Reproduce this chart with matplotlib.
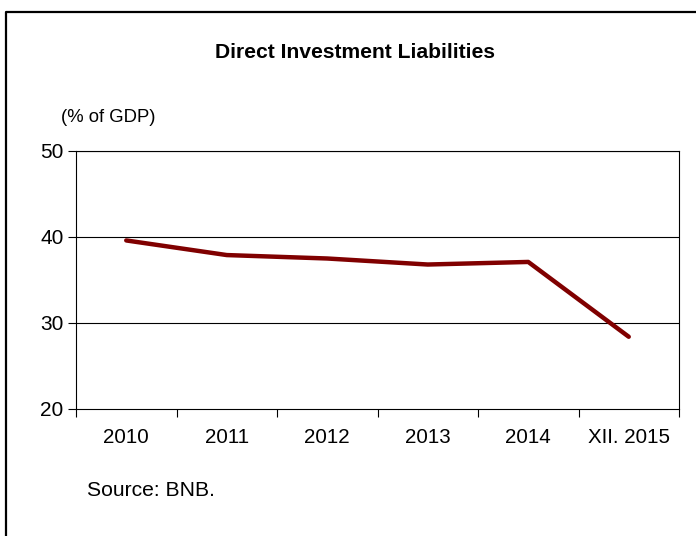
import matplotlib
matplotlib.use("Agg")
import matplotlib.pyplot as plt
from matplotlib.lines import Line2D
import numpy as np

plt.rcParams['font.family'] = ['Liberation Sans', 'DejaVu Sans']

categories = ["2010", "2011", "2012", "2013", "2014", "XII. 2015"]
values = [39.6, 37.9, 37.5, 36.8, 37.1, 28.4]
yticks = [20, 30, 40, 50]

fig = plt.figure(figsize=(6.96, 5.36), dpi=100)
W, H = 696, 536
ax = fig.add_axes([76 / W, 1 - 409 / H, (679 - 76) / W, (409 - 151) / H])

x = np.arange(len(categories))
ax.plot(x, values, color='#800000', linewidth=3.2, solid_capstyle='round', zorder=3)

ax.set_xlim(-0.5, len(categories) - 0.5)
ax.set_ylim(20, 50)
ax.set_yticks(yticks)
ax.set_yticklabels([str(v) for v in yticks], fontsize=15)
ax.set_xticks(x)
ax.set_xticklabels(categories, fontsize=14.8)
ax.tick_params(axis='x', which='major', length=0, pad=14)
ax.set_xticks(np.arange(-0.5, len(categories), 1.0), minor=True)
ax.tick_params(axis='x', which='minor', length=6, width=0.8, direction='out', color='black')
ax.tick_params(axis='y', length=6, width=0.8, direction='out', pad=3)

for v in yticks[1:]:
    ax.axhline(v, color='black', linewidth=0.8, zorder=1)
for s in ax.spines.values():
    s.set_color('black')
    s.set_linewidth(0.8)

fig.text(355 / W, 1 - 52 / H, "Direct Investment Liabilities", ha='center', va='center',
         fontsize=15.2, fontweight='bold')
fig.text(61 / W, 1 - 117 / H, "(% of GDP)", ha='left', va='center', fontsize=13.3)
fig.text(87 / W, 1 - 491 / H, "Source: BNB.", ha='left', va='center', fontsize=15.2)

# outer frame (left and top edges visible)
fig.add_artist(Line2D([5.5 / W, 5.5 / W, 1.0], [0.0, 1 - 12 / H, 1 - 12 / H],
                      transform=fig.transFigure, color='black', linewidth=1.6))

fig.savefig("out.png", dpi=100)
